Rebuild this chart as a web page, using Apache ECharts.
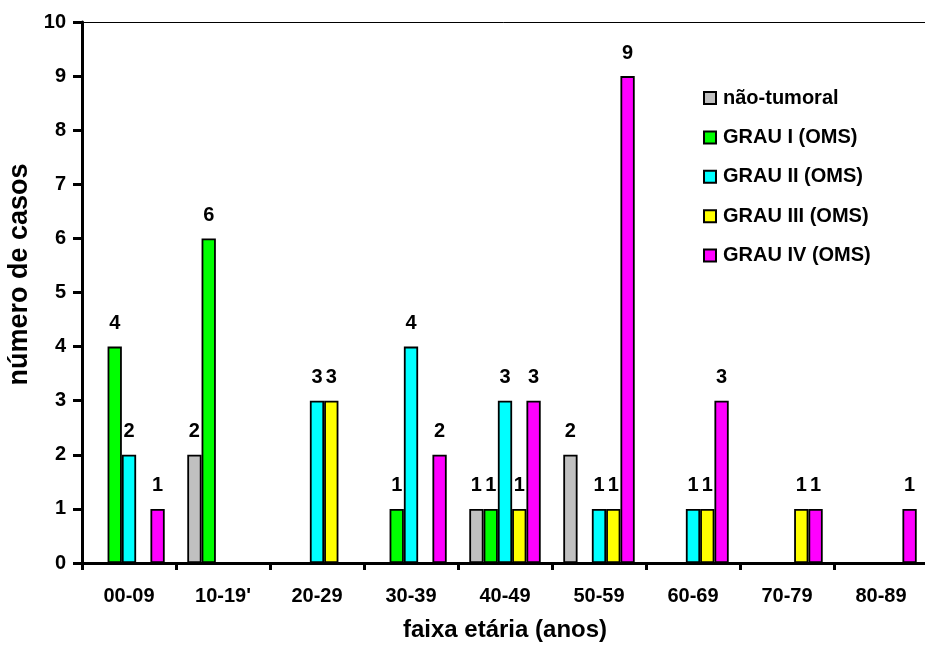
<!DOCTYPE html>
<html>
<head>
<meta charset="utf-8">
<script src="https://cdn.jsdelivr.net/npm/echarts@6/dist/echarts.min.js"></script>
<style>
  html, body { margin: 0; padding: 0; background: #fff; }
  #chart { width: 925px; height: 650px; }
</style>
</head>
<body>
<div id="chart"></div>
<script>
// Age groups on the category axis
const faixas = ['00-09', "10-19'", '20-29', '30-39', '40-49', '50-59', '60-69', '70-79', '80-89'];

// Case counts per group (0 = no case)
const naoTumoral = [0, 2, 0, 0, 1, 2, 0, 0, 0];
const grauI      = [4, 6, 0, 1, 1, 0, 0, 0, 0];
const grauII     = [2, 0, 3, 4, 3, 1, 1, 0, 0];
const grauIII    = [0, 0, 3, 0, 1, 1, 1, 1, 0];
const grauIV     = [1, 0, 0, 2, 3, 9, 3, 1, 1];

const seriesNames = ['não-tumoral', 'GRAU I (OMS)', 'GRAU II (OMS)', 'GRAU III (OMS)', 'GRAU IV (OMS)'];
const seriesData  = [naoTumoral, grauI, grauII, grauIII, grauIV];
const colors      = ['#C0C0C0', '#00FF00', '#00FFFF', '#FFFF00', '#FF00FF'];

// Y axis ticks
const yMin = 0, yMax = 10, yStep = 1;

const FONT = 'Arial, "Liberation Sans", sans-serif';

const chart = echarts.init(document.getElementById('chart'), null, { renderer: 'canvas' });

const series = seriesData.map((vals, i) => ({
  name: seriesNames[i],
  type: 'bar',
  xAxisIndex: 0,
  barGap: '0%',
  barCategoryGap: '24%',
  data: vals.map(v => (v === 0 ? '-' : v)),
  itemStyle: { color: colors[i], borderColor: '#000', borderWidth: 1.8 },
  label: {
    show: true,
    position: 'top',
    distance: 13,
    color: '#000',
    fontFamily: FONT,
    fontWeight: 'bold',
    fontSize: 20
  }
}));

chart.setOption({
  animation: false,
  backgroundColor: '#fff',
  color: colors,
  grid: { left: 82, top: 22, width: 846, bottom: 87, containLabel: false, outerBoundsMode: 'none' },
  legend: {
    orient: 'vertical',
    left: 703,
    top: 88,
    padding: 0,
    itemWidth: 12,
    itemHeight: 12,
    itemGap: 19.4,
    icon: 'rect',
    itemStyle: { borderColor: '#000', borderWidth: 2 },
    textStyle: { fontFamily: FONT, fontWeight: 'bold', fontSize: 20, color: '#000', padding: [0, 0, 0, 2] },
    data: seriesNames
  },
  xAxis: [{
    type: 'category',
    data: faixas,
    name: 'faixa etária (anos)',
    nameLocation: 'middle',
    nameGap: 55,
    nameTextStyle: { fontFamily: FONT, fontWeight: 'bold', fontSize: 24, color: '#000' },
    axisLine: { lineStyle: { color: '#000', width: 3 } },
    axisTick: { show: true, length: 7, lineStyle: { color: '#000', width: 3 } },
    axisLabel: { fontFamily: FONT, fontWeight: 'bold', fontSize: 20, color: '#000', margin: 23 },
    splitLine: { show: false }
  }, {
    // thin frame line along the top of the plot area
    type: 'category',
    position: 'top',
    data: faixas,
    axisLine: { show: true, lineStyle: { color: '#000', width: 1 } },
    axisTick: { show: false },
    axisLabel: { show: false }
  }],
  yAxis: {
    type: 'value',
    min: yMin,
    max: yMax,
    interval: yStep,
    name: 'número de casos',
    nameLocation: 'middle',
    nameGap: 46,
    nameTextStyle: { fontFamily: FONT, fontWeight: 'bold', fontSize: 27, color: '#000', padding: [0, 0, 0, 36] },
    axisLine: { show: true, lineStyle: { color: '#000', width: 3 } },
    axisTick: { show: true, length: 9, lineStyle: { color: '#000', width: 3 } },
    axisLabel: { fontFamily: FONT, fontWeight: 'bold', fontSize: 20, color: '#000', margin: 16 },
    splitLine: { show: false }
  },
  series: series
});
</script>
</body>
</html>
